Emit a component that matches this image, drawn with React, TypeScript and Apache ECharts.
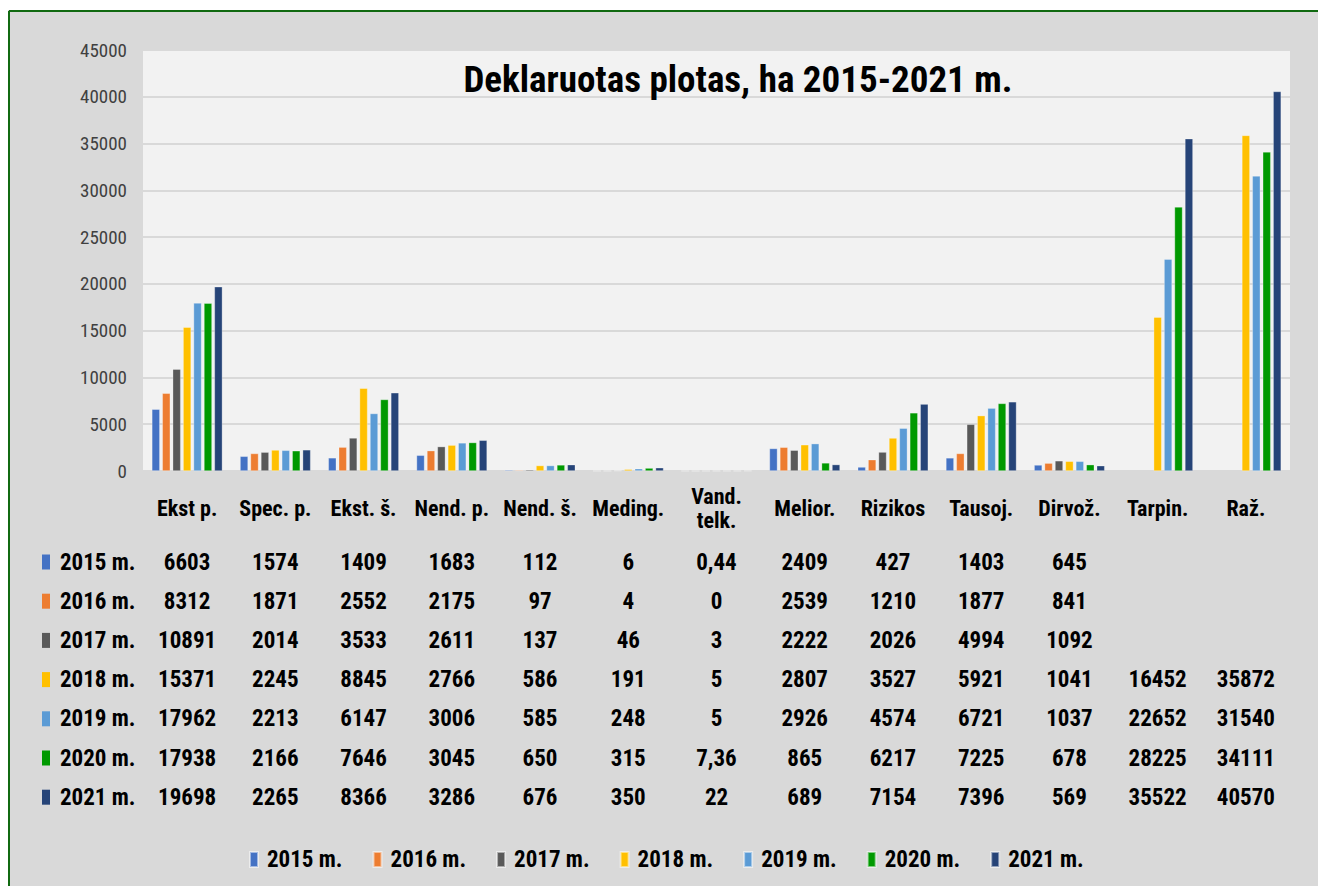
import React, { useEffect, useRef } from "react";
import * as echarts from "echarts";

const categories = ["Ekst p.", "Spec. p.", "Ekst. š.", "Nend. p.", "Nend. š.", "Meding.", "Vand.\ntelk.", "Melior.", "Rizikos", "Tausoj.", "Dirvož.", "Tarpin.", "Raž."];
const seriesNames = ["2015 m.", "2016 m.", "2017 m.", "2018 m.", "2019 m.", "2020 m.", "2021 m."];
const colors = ["#4472C4", "#ED7D31", "#595959", "#FFC000", "#5B9BD5", "#009900", "#264478"];

const v2015 = [6603, 1574, 1409, 1683, 112, 6, 0.44, 2409, 427, 1403, 645, null, null];
const v2016 = [8312, 1871, 2552, 2175, 97, 4, 0, 2539, 1210, 1877, 841, null, null];
const v2017 = [10891, 2014, 3533, 2611, 137, 46, 3, 2222, 2026, 4994, 1092, null, null];
const v2018 = [15371, 2245, 8845, 2766, 586, 191, 5, 2807, 3527, 5921, 1041, 16452, 35872];
const v2019 = [17962, 2213, 6147, 3006, 585, 248, 5, 2926, 4574, 6721, 1037, 22652, 31540];
const v2020 = [17938, 2166, 7646, 3045, 650, 315, 7.36, 865, 6217, 7225, 678, 28225, 34111];
const v2021 = [19698, 2265, 8366, 3286, 676, 350, 22, 689, 7154, 7396, 569, 35522, 40570];
const seriesValues = [v2015, v2016, v2017, v2018, v2019, v2020, v2021];

const titleText = "Deklaruotas plotas, ha 2015-2021 m.";
const yTicks = { min: 0, max: 45000, interval: 5000 };

const FONT = "'Liberation Sans Narrow', 'Arial Narrow', 'Roboto Condensed', sans-serif";

const fmt = (v: number | null) => (v === null || v === undefined ? "" : String(v).replace(".", ","));

export default function App() {
  const ref = useRef<HTMLDivElement>(null);
  useEffect(() => {
    if (!ref.current) return;
    const chart = echarts.init(ref.current, null, { renderer: "svg" });
    const option: any = {
      animation: false,
      backgroundColor: "#d9d9d9",
      textStyle: { fontFamily: FONT },
      grid: {
        left: 143,
        right: 28,
        top: 50,
        bottom: 886 - 471,
        show: true,
        backgroundColor: "#f2f2f2",
        borderWidth: 0,
      },
      legend: {
        left: 244,
        top: 843,
        itemWidth: 8,
        itemHeight: 15,
        itemGap: 30,
        icon: "rect",
        data: seriesNames,
        textStyle: { fontFamily: FONT, fontSize: 23, fontWeight: "bold", color: "#000", padding: [0, 0, 0, 4] },
      },
      xAxis: {
        type: "category",
        data: categories,
        axisLine: { show: false },
        axisTick: { show: false },
        axisLabel: {
          interval: 0,
          margin: 37,
          verticalAlign: "middle",
          fontFamily: FONT,
          fontSize: 22,
          fontWeight: "bold",
          color: "#000",
          lineHeight: 24,
        },
      },
      yAxis: {
        type: "value",
        min: yTicks.min,
        max: yTicks.max,
        interval: yTicks.interval,
        axisLine: { show: false },
        axisTick: { show: false },
        splitLine: { lineStyle: { color: "#d9d9d9", width: 2 } },
        axisLabel: { margin: 16, fontFamily: FONT, fontSize: 19, color: "#404040", formatter: (v: number) => String(v) },
      },
      series: seriesNames.map((name, i) => ({
        name,
        type: "bar",
        data: seriesValues[i],
        barGap: "30%",
        barCategoryGap: "20%",
        itemStyle: { color: colors[i], borderColor: "rgba(255,255,255,0.5)", borderWidth: 0.6 },
      })),
    };
    chart.setOption(option);

    const graphics: any[] = [];
    // white page margin + green frame
    graphics.push({ type: "rect", shape: { x: 0, y: 0, width: 1318, height: 10 }, style: { fill: "#fff" }, z: 100 });
    graphics.push({ type: "rect", shape: { x: 0, y: 0, width: 8, height: 886 }, style: { fill: "#fff" }, z: 100 });
    graphics.push({ type: "line", shape: { x1: 9, y1: 11, x2: 1318, y2: 11 }, style: { stroke: "#116a11", lineWidth: 2 }, z: 101 });
    graphics.push({ type: "line", shape: { x1: 9, y1: 11, x2: 9, y2: 886 }, style: { stroke: "#116a11", lineWidth: 2 }, z: 101 });
    // title
    graphics.push({
      type: "text",
      x: 738,
      y: 79,
      style: { text: titleText, fontFamily: FONT, fontSize: 37, fontWeight: "bold", fill: "#000", align: "center", verticalAlign: "middle" },
      z: 50,
    });
    // data table
    const rowY0 = 562;
    const rowStep = 39.2;
    seriesNames.forEach((name, r) => {
      const y = rowY0 + r * rowStep;
      graphics.push({ type: "rect", shape: { x: 42, y: y - 7.5, width: 8, height: 15 }, style: { fill: colors[r] }, z: 50 });
      graphics.push({
        type: "text",
        x: 60,
        y,
        style: { text: name, fontFamily: FONT, fontSize: 23, fontWeight: "bold", fill: "#000", align: "left", verticalAlign: "middle" },
        z: 50,
      });
      categories.forEach((c, ci) => {
        const px = chart.convertToPixel({ xAxisIndex: 0 }, ci) as number;
        const val = seriesValues[r][ci];
        if (val === null || val === undefined) return;
        graphics.push({
          type: "text",
          x: px,
          y,
          style: { text: fmt(val), fontFamily: FONT, fontSize: 23, fontWeight: "bold", fill: "#000", align: "center", verticalAlign: "middle" },
          z: 50,
        });
      });
    });
    chart.setOption({ graphic: graphics });
    return () => chart.dispose();
  }, []);
  return <div ref={ref} style={{ position: "fixed", left: 0, top: 0, width: 1318, height: 886 }} />;
}
